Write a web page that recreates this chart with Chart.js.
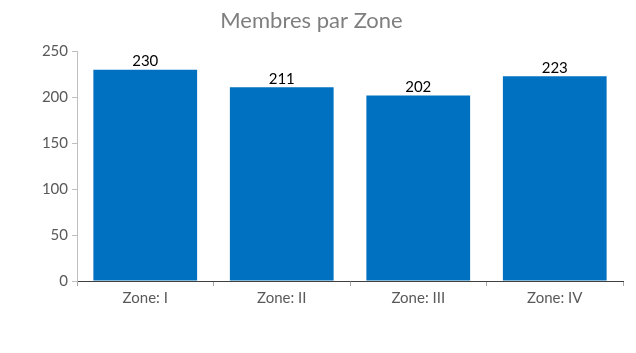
<!DOCTYPE html>
<html>
<head>
<meta charset="utf-8">
<script src="https://cdn.jsdelivr.net/npm/chart.js@4/dist/chart.umd.min.js"></script>
<style>
  html, body { margin: 0; padding: 0; background: #fff; }
  #wrap { width: 636px; height: 353px; }
</style>
</head>
<body>
<div id="wrap"><canvas id="myChart"></canvas></div>
<script>
var zones = ["Zone: I", "Zone: II", "Zone: III", "Zone: IV"];
var membres = [230, 211, 202, 223];
var yTicks = [0, 50, 100, 150, 200, 250];

// numbers above each bar
var barLabels = {
  id: "barLabels",
  afterDatasetsDraw: function (chart) {
    var ctx = chart.ctx;
    var meta = chart.getDatasetMeta(0);
    ctx.save();
    ctx.fillStyle = "#000";
    ctx.font = "15px Lato";
    ctx.textAlign = "center";
    ctx.textBaseline = "bottom";
    meta.data.forEach(function (bar, i) {
      ctx.fillText(membres[i], bar.x, bar.y - 1);
    });
    ctx.restore();
  }
};

new Chart("myChart", {
  type: "bar",
  data: {
    labels: zones,
    datasets: [
      {
        data: membres,
        backgroundColor: "#0070C0",
        borderWidth: 0,
        categoryPercentage: 1,
        barPercentage: 0.76
      }
    ]
  },
  options: {
    responsive: true,
    maintainAspectRatio: false,
    animation: false,
    layout: { padding: { top: 0, right: 13, bottom: 42, left: 0 } },
    plugins: {
      legend: { display: false },
      tooltip: { enabled: false },
      title: {
        display: true,
        text: "Membres par Zone",
        color: "#7f7f7f",
        font: { family: "Lato", size: 22, weight: "normal" },
        padding: { top: 8, bottom: 17 }
      }
    },
    scales: {
      x: {
        grid: { display: true, drawOnChartArea: false, offset: true, tickLength: 5, color: "#a6a6a6" },
        border: { color: "#404040", width: 1 },
        ticks: { color: "#595959", font: { family: "Lato", size: 15 }, padding: 3 },
        afterFit: function (scale) { scale.height = 30; }
      },
      y: {
        min: 0,
        max: 250,
        afterBuildTicks: function (scale) {
          scale.ticks = yTicks.map(function (v) { return { value: v }; });
        },
        grid: { display: true, drawOnChartArea: false, tickLength: 5, color: "#bfbfbf" },
        border: { color: "#bfbfbf", width: 1 },
        ticks: { color: "#595959", font: { family: "Lato", size: 15 }, padding: 4 },
        afterFit: function (scale) { scale.width = 77; }
      }
    }
  },
  plugins: [barLabels]
});
</script>
</body>
</html>
